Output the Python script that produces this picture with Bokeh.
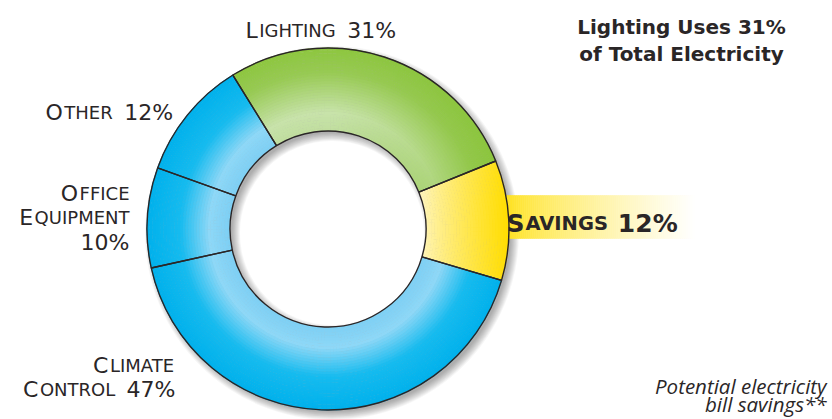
import numpy as np
from bokeh.plotting import figure
from bokeh.models import Range1d
from bokeh.embed import file_html
from bokeh.resources import INLINE
from bokeh.core.properties import value

# ---------------- data ----------------
categories = ["Savings", "Lighting", "Other", "Office Equipment", "Climate Control"]
percent = [12, 31, 12, 10, 47]
title_lines = ["Lighting Uses 31%", "of Total Electricity"]
note_lines = ["Potential electricity", "bill savings**"]

# ---------------- layout helpers ----------------
W, H = 832, 419


def Y(ry):
    return H - ry


CX, CY = 327.5, Y(228.5)
R_IN, R_OUT = 98.0, 181.0
START = np.deg2rad(-16.5)
INK = "#2a2627"

p = figure(width=W, height=H, x_range=Range1d(0, W), y_range=Range1d(0, H),
           output_backend="svg", toolbar_location=None, min_border=0)
p.axis.visible = False
p.grid.visible = False
p.outline_line_color = None
p.background_fill_color = "white"

vals = np.array(percent, dtype=float)
ends = START + 2 * np.pi * np.cumsum(vals) / vals.sum()
starts = np.concatenate([[START], ends[:-1]])


def hexc(c):
    return "#%02x%02x%02x" % tuple(int(round(max(0, min(255, v)))) for v in c)


def interp(t, stops):
    ts = [s[0] for s in stops]
    cs = np.array([s[1] for s in stops], dtype=float)
    return np.array([np.interp(t, ts, cs[:, k]) for k in range(3)])


BLUE = [(0.0, (125, 207, 244)), (0.25, (142, 216, 247)), (0.6, (22, 187, 239)), (1.0, (0, 177, 236))]
GREEN = [(0.0, (192, 222, 158)), (0.22, (200, 227, 170)), (0.7, (152, 202, 84)), (1.0, (141, 198, 63))]

# ---------------- shadow ----------------
for k in range(10):
    s = -2 + 8 * k / 9.0
    p.annulus(x=[CX + 4], y=[CY - 4], inner_radius=R_IN - s, outer_radius=R_OUT + s,
              fill_color="black", fill_alpha=0.034, line_color=None)

# ---------------- savings label band ----------------
bx = np.linspace(470, 694, 113)
bl, br = bx[:-1], bx[1:]
bcols = []
for xm in (bl + br) / 2:
    a = np.clip((xm - 500) / (694 - 500), 0, 1)
    a = a ** 0.65
    c = np.array([255, 222, 0]) * (1 - a) + np.array([255, 255, 255]) * a
    bcols.append(hexc(c))
p.quad(left=bl, right=br, bottom=Y(238), top=Y(195), fill_color=bcols, line_color=bcols, line_width=0.6)

# ---------------- ring with gradients ----------------
NR = 30
rr = np.linspace(R_IN, R_OUT, NR + 1)
ci, co, cs_, ce, cc = [], [], [], [], []
for i, name in enumerate(categories):
    a0, a1 = starts[i], ends[i]
    na = max(6, int(np.rad2deg(a1 - a0) / 1.5))
    aa = np.linspace(a0, a1, na + 1)
    for j in range(NR):
        rm = 0.5 * (rr[j] + rr[j + 1])
        t = (rm - R_IN) / (R_OUT - R_IN)
        for m in range(na):
            am = 0.5 * (aa[m] + aa[m + 1])
            if name == "Savings":
                xm = CX + rm * np.cos(am)
                u = np.clip((xm - 423) / (508 - 423), 0, 1) ** 0.85
                col = np.array([255, 244, 182]) * (1 - u) + np.array([255, 221, 0]) * u
            elif name == "Lighting":
                col = interp(t, GREEN)
                f = (a1 - am) / (a1 - a0)
                f = np.clip((f - 0.35) / 0.65, 0, 1)
                col = col * (1 - 0.4 * f) + np.array([138, 196, 58]) * 0.4 * f
            else:
                col = interp(t, BLUE)
            ci.append(rr[j]); co.append(rr[j + 1] + 0.4)
            cs_.append(aa[m]); ce.append(aa[m + 1] + 0.004)
            cc.append(hexc(col))
p.annular_wedge(x=CX, y=CY, inner_radius=ci, outer_radius=co, start_angle=cs_, end_angle=ce,
                fill_color=cc, line_color=None)

# outlines
p.annular_wedge(x=CX, y=CY, inner_radius=R_IN, outer_radius=R_OUT, start_angle=starts, end_angle=ends,
                fill_color=None, line_color=INK, line_width=1.4)

# ---------------- small-caps labels ----------------
WREG = {"A": 0.684, "C": 0.698, "E": 0.632, "F": 0.575, "G": 0.775, "H": 0.752,
        "I": 0.295, "L": 0.557, "M": 0.863, "N": 0.748, "O": 0.787, "P": 0.603, "Q": 0.787,
        "R": 0.695, "S": 0.635, "T": 0.611, "U": 0.732, "V": 0.684, "%": 0.950}
WBOLD = {"A": 0.774, "G": 0.823, "I": 0.373, "N": 0.837, "S": 0.720, "V": 0.774, "%": 1.002}
for d in "0123456789":
    WREG[d] = 0.636
    WBOLD[d] = 0.696


def runs_of(txt):
    out = []
    for ch in txt:
        kind = "sp" if ch == " " else ("sm" if (ch.isalpha() and ch.islower()) else "big")
        if out and out[-1][1] == kind and kind != "sp":
            out[-1][0] += ch.upper()
        else:
            out.append([ch.upper(), kind])
    return out


def draw_sc(txt, x, base, align, big, small, bold=False, gap=1.5, space=0.45):
    table = WBOLD if bold else WREG
    runs = runs_of(txt)
    widths = []
    for r, kind in runs:
        if kind == "sp":
            widths.append(space * big)
        else:
            sz = small if kind == "sm" else big
            widths.append(sum(table.get(c, 0.6) * sz for c in r) + gap)
    total = sum(widths) - gap
    x0 = x if align == "left" else x - total
    for (r, kind), w in zip(runs, widths):
        if kind != "sp":
            p.text(x=[x0], y=[Y(base)], text=[r], text_font=value("DejaVu Sans"),
                   text_font_size="%.1fpx" % (small if kind == "sm" else big),
                   text_font_style="bold" if bold else "normal",
                   text_color=INK, text_align="left", text_baseline="alphabetic")
        x0 += w


def label_for(i):
    return "%s %d%%" % (categories[i], percent[i])


BIG, SMALL = 22, 18
# Lighting
draw_sc(label_for(1), 245, 30, "left", BIG, SMALL)
# Other
draw_sc(label_for(2), 45, 112, "left", BIG, SMALL)
# Office Equipment (three lines, right aligned)
off_words = categories[3].split()
draw_sc(off_words[0], 129, 193.3, "right", BIG, SMALL)
draw_sc(off_words[1], 129, 217, "right", BIG, SMALL)
draw_sc("%d%%" % percent[3], 129, 241.7, "right", BIG, SMALL)
# Climate Control (two lines, right aligned)
cl_words = categories[4].split()
draw_sc(cl_words[0], 175, 365, "right", BIG, SMALL)
draw_sc("%s %d%%" % (cl_words[1], percent[4]), 175, 389.3, "right", BIG, SMALL)
# Savings (bold)
draw_sc(label_for(0), 506, 222.7, "left", 25, 19.5, bold=True, gap=1.0, space=0.3)

# ---------------- title and note ----------------
p.text(x=[681, 681], y=[Y(26.7), Y(53.3)], text=title_lines, text_font=value("DejaVu Sans"),
       text_font_size="20px", text_font_style="bold", text_color=INK,
       text_align="center", text_baseline="alphabetic")
p.text(x=[826, 826], y=[Y(385), Y(403.5)], text=note_lines, text_font=value("Open Sans"),
       text_font_size="20.5px", text_font_style="italic", text_color=INK,
       text_align="right", text_baseline="alphabetic")

open("out.html", "w").write(file_html(p, INLINE))
